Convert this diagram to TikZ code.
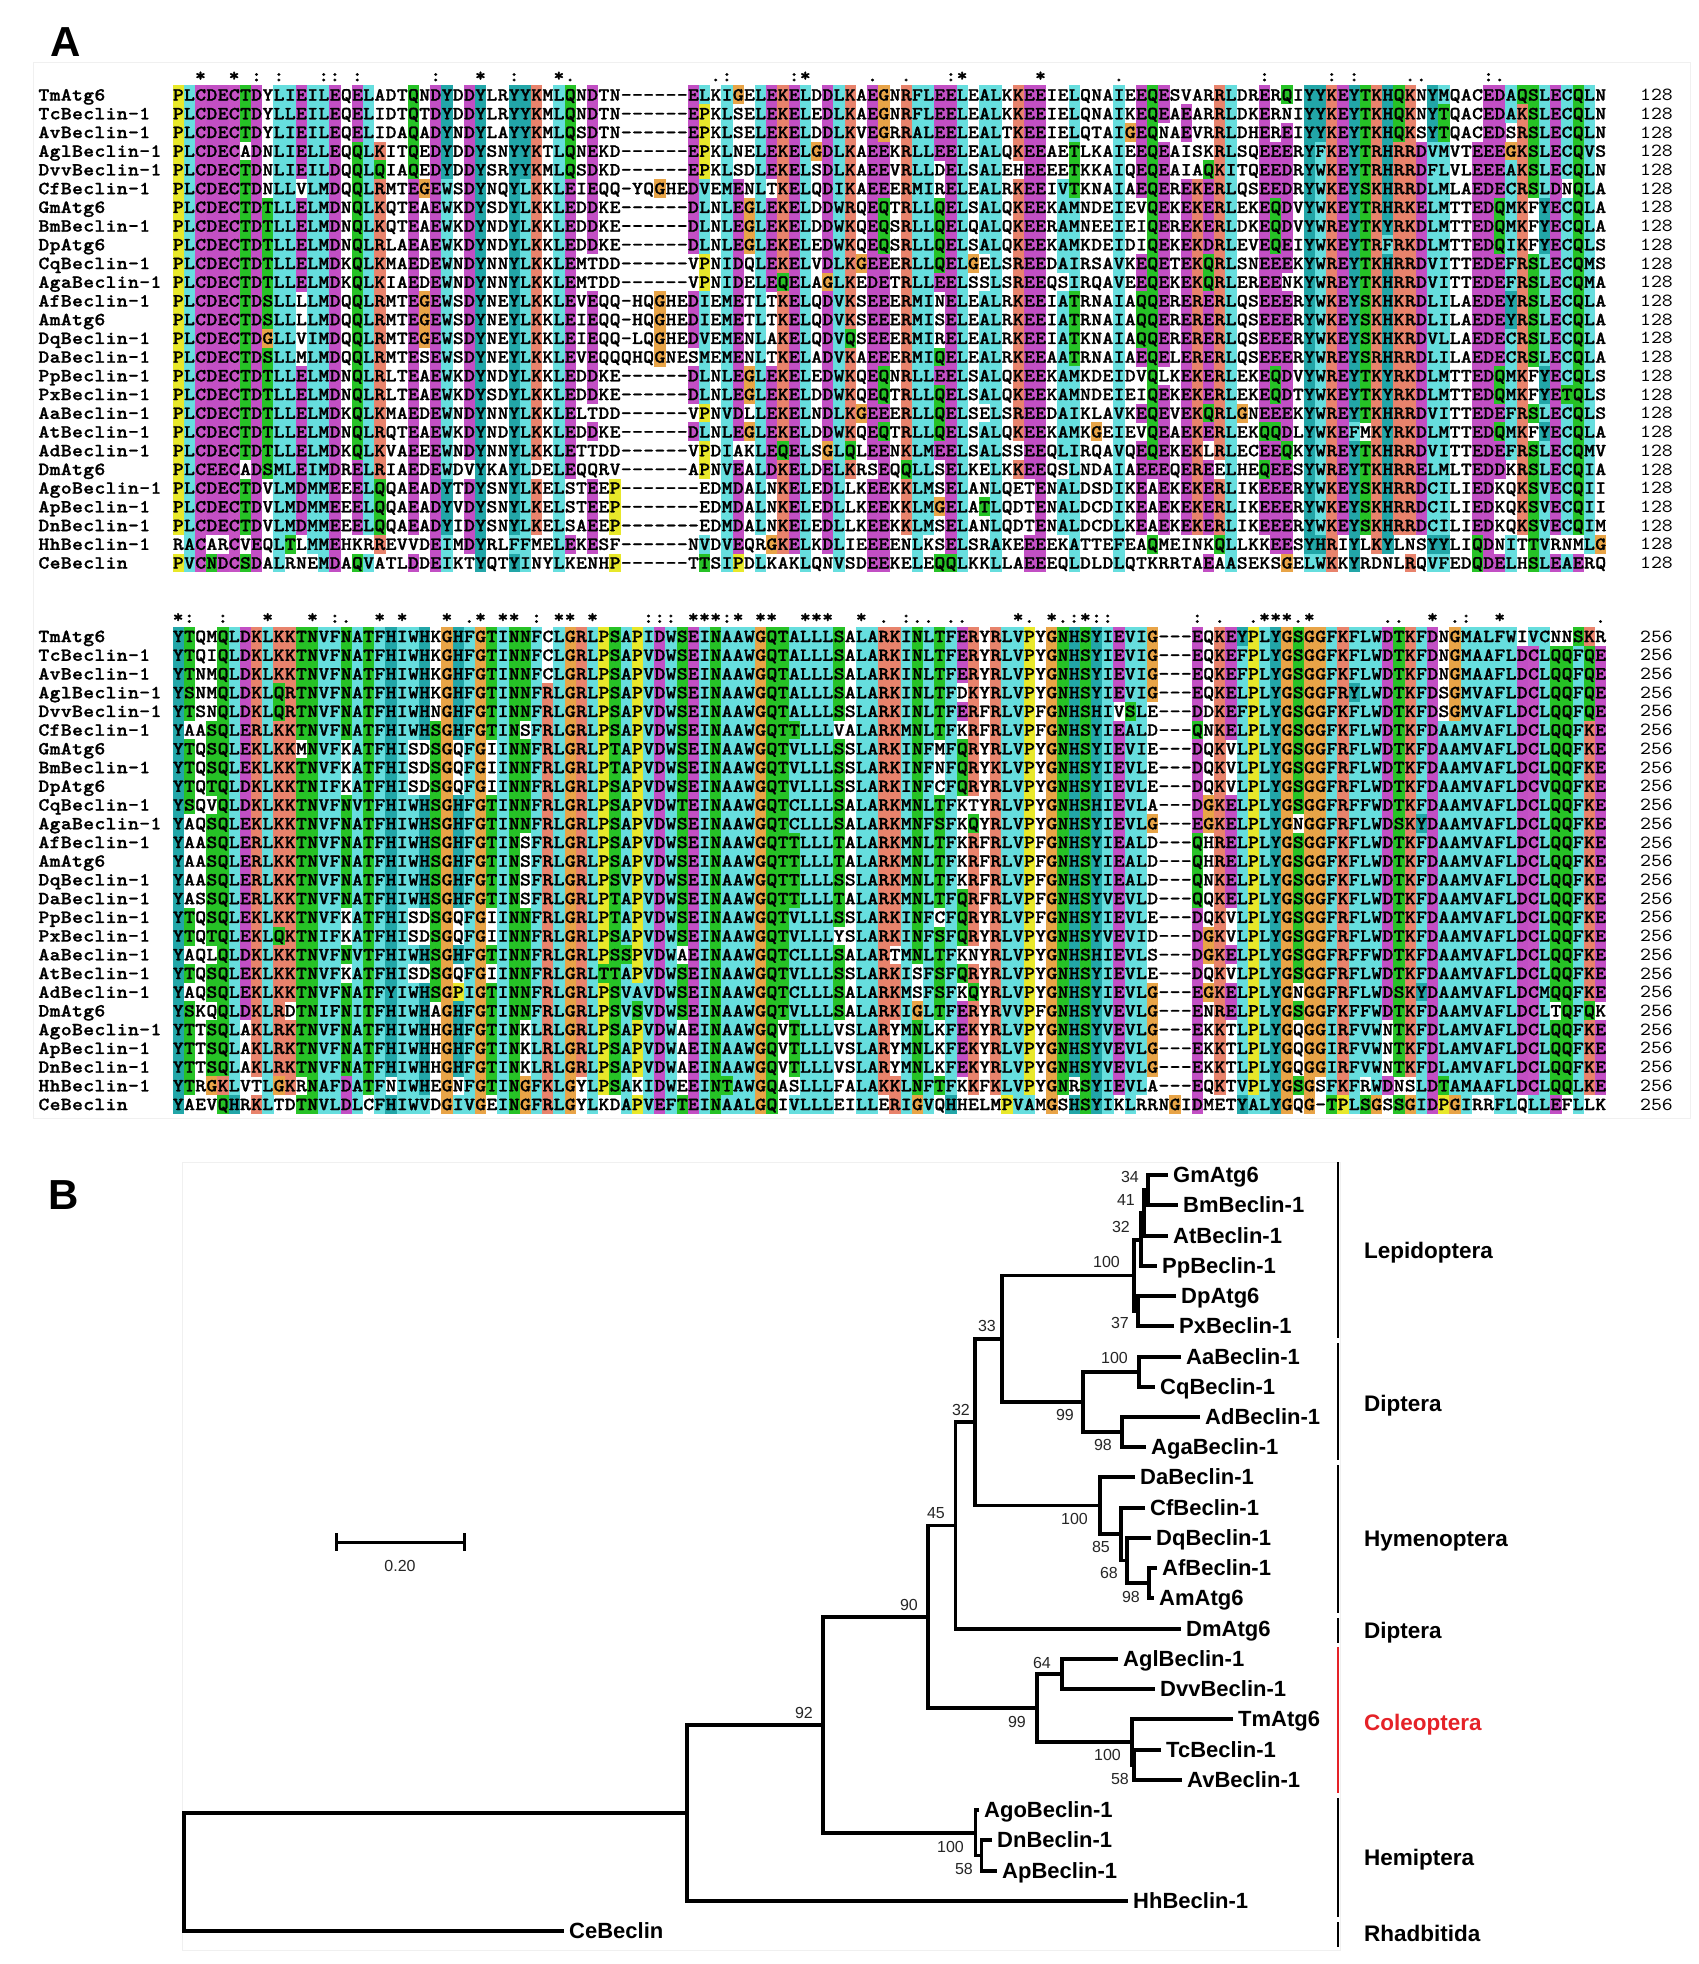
\documentclass[tikz,border=0pt]{standalone}
\usepackage{fontspec}
\setmainfont{Liberation Sans}
\setmonofont{lmmonolt10-bold.otf}[FakeStretch=1.12, FakeBold=1.2]
\newfontfamily\numfont{lmmono10-regular.otf}[FakeStretch=1.12]
\definecolor{cHyd}{HTML}{66DEDE}
\definecolor{cAro}{HTML}{22A6A8}
\definecolor{cNeg}{HTML}{C24FC4}
\definecolor{cPol}{HTML}{26C226}
\definecolor{cPos}{HTML}{E8836C}
\definecolor{cGly}{HTML}{E8A447}
\definecolor{cPro}{HTML}{E8E82A}
\definecolor{cCys}{HTML}{C653C4}
\definecolor{colred}{HTML}{E52228}
\tikzset{
  rowtxt/.style={anchor=base west, inner sep=0pt, font=\ttfamily\fontsize{18.5}{18.5}\selectfont},
  numtxt/.style={anchor=base east, inner sep=0pt, font=\numfont\fontsize{18.5}{18.5}\selectfont},
  constxt/.style={anchor=base, inner sep=0pt, font=\ttfamily\fontsize{18.5}{18.5}\selectfont},
  leaf/.style={anchor=west, inner sep=0pt, text height=15.5pt, text depth=0pt, font=\bfseries\fontsize{22}{22}\selectfont},
  boot/.style={anchor=east, inner sep=0pt, text height=11.5pt, text depth=0pt, text=black!85, font=\fontsize{16}{16}\selectfont},
  grp/.style={anchor=west, inner sep=0pt, text height=16pt, text depth=0pt, font=\bfseries\fontsize{22.5}{22.5}\selectfont},
  br/.style={line width=3.2pt, line join=miter},
  grpbar/.style={line width=2.4pt},
  panel/.style={anchor=center, inner sep=0pt, font=\bfseries\fontsize{42}{42}\selectfont},
}
\ExplSyntaxOn
\intarray_new:Nn \g_aln_data_intarray { 6656 }
\intarray_new:Nn \g_aln_cnt_intarray { 26 }
\intarray_new:Nn \g_aln_flag_intarray { 128 }
\int_new:N \l_aln_j_int
\int_new:N \l_aln_c_int
\int_new:N \l_aln_gap_int
\int_new:N \l_aln_tot_int
\int_new:N \l_aln_nd_int
\int_new:N \g_aln_row_int
\bool_new:N \l_aln_hit_bool
\bool_new:N \l_aln_sub_bool
\tl_new:N \l_aln_color_tl
\tl_new:N \l_aln_cons_tl
\tl_new:N \l_aln_present_tl
\tl_new:N \l_aln_x_tl
\tl_new:N \l_aln_xc_tl
\tl_new:N \l_aln_y_tl
\seq_new:N \g_aln_names_seq
\seq_new:N \g_aln_rowsA_seq
\seq_new:N \g_aln_rowsB_seq
\cs_generate_variant:Nn \str_count:n { e }

\cs_new_protected:Npn \aln_store:nnn #1 #2 #3
  {
    \int_set:Nn \l_aln_j_int { 0 }
    \str_map_inline:nn { #3 }
      {
        \int_incr:N \l_aln_j_int
        \int_compare:nNnT \l_aln_j_int < { 129 }
          {
            \intarray_gset:Nnn \g_aln_data_intarray
              { (#1 - 1) * 3328 + (#2 - 1) * 128 + \l_aln_j_int }
              { `##1 }
          }
      }
  }
\NewDocumentCommand \alnrow { m m m }
  {
    \int_gincr:N \g_aln_row_int
    \seq_gput_right:Nn \g_aln_names_seq { #1 }
    \seq_gput_right:Nn \g_aln_rowsA_seq { #2 }
    \seq_gput_right:Nn \g_aln_rowsB_seq { #3 }
    \aln_store:nnn { 1 } { \g_aln_row_int } { #2 }
    \aln_store:nnn { 2 } { \g_aln_row_int } { #3 }
  }
\cs_new:Npn \aln_cnt:n #1 { \intarray_item:Nn \g_aln_cnt_intarray { `#1 - 64 } }
\cs_new:Npn \aln_item:nnn #1 #2 #3
  { \intarray_item:Nn \g_aln_data_intarray { (#1 - 1) * 3328 + (#2 - 1) * 128 + (#3) } }
\cs_new_protected:Npn \aln_flag:n #1 { \intarray_gset:Nnn \g_aln_flag_intarray { `#1 } { 1 } }
\cs_new_protected:Npn \aln_subset:nn #1 #2
  {
    \tl_if_empty:NT \l_aln_cons_tl
      {
        \bool_set_true:N \l_aln_sub_bool
        \tl_map_inline:Nn \l_aln_present_tl
          { \tl_if_in:nnF { #1 } { ##1 } { \bool_set_false:N \l_aln_sub_bool } }
        \bool_if:NT \l_aln_sub_bool { \tl_set:Nn \l_aln_cons_tl { #2 } }
      }
  }
\cs_new_protected:Npn \aln_column:nn #1 #2
  {
    \intarray_gzero:N \g_aln_cnt_intarray
    \intarray_gzero:N \g_aln_flag_intarray
    \int_zero:N \l_aln_gap_int
    \int_step_inline:nn { 26 }
      {
        \int_set:Nn \l_aln_c_int { \aln_item:nnn {#1} {##1} {#2} }
        \int_compare:nNnTF \l_aln_c_int < { 65 }
          { \int_incr:N \l_aln_gap_int }
          {
            \intarray_gset:Nnn \g_aln_cnt_intarray { \l_aln_c_int - 64 }
              { \intarray_item:Nn \g_aln_cnt_intarray { \l_aln_c_int - 64 } + 1 }
          }
      }
    \int_set:Nn \l_aln_tot_int
      { \aln_cnt:n W + \aln_cnt:n L + \aln_cnt:n V + \aln_cnt:n I + \aln_cnt:n M
        + \aln_cnt:n A + \aln_cnt:n F + \aln_cnt:n C + \aln_cnt:n H + \aln_cnt:n P }
    \int_compare:nNnT { 100 * \l_aln_tot_int } > { 1560 } { \aln_flag:n h }
    \int_compare:nNnT { 100 * \l_aln_tot_int } > { 2080 } { \aln_flag:n x }
    \int_compare:nNnT { 100 * ( \aln_cnt:n E + \aln_cnt:n D ) } > { 1300 } { \aln_flag:n m }
    \int_compare:nNnT { 100 * ( \aln_cnt:n K + \aln_cnt:n R ) } > { 1560 } { \aln_flag:n k }
    \int_compare:nNnT { 100 * \aln_cnt:n N } > { 1300 } { \aln_flag:n n }
    \int_compare:nNnT { 100 * ( \aln_cnt:n Q + \aln_cnt:n E ) } > { 1300 } { \aln_flag:n q }
    \int_compare:nNnT { 100 * \aln_cnt:n P } > { 1300 } { \aln_flag:n p }
    \int_compare:nNnT { 100 * ( \aln_cnt:n T + \aln_cnt:n S ) } > { 1300 } { \aln_flag:n t }
    \int_step_inline:nn { 26 }
      {
        \int_compare:nNnT { \intarray_item:Nn \g_aln_cnt_intarray { ##1 } } > { 22 }
          { \intarray_gset:Nnn \g_aln_flag_intarray { ##1 + 64 } { 1 } }
      }
    \tl_clear:N \l_aln_cons_tl
    \int_compare:nNnT \l_aln_gap_int = { 0 }
      {
        \tl_clear:N \l_aln_present_tl
        \int_zero:N \l_aln_nd_int
        \int_step_inline:nn { 26 }
          {
            \int_compare:nNnT { \intarray_item:Nn \g_aln_cnt_intarray { ##1 } } > { 0 }
              {
                \int_incr:N \l_aln_nd_int
                \tl_put_right:Nx \l_aln_present_tl { \char_generate:nn { ##1 + 64 } { 11 } }
              }
          }
        \int_compare:nNnTF \l_aln_nd_int = { 1 }
          { \tl_set:Nn \l_aln_cons_tl { * } }
          {
            \clist_map_inline:nn { STA, NEQK, NHQK, NDEQ, QHRK, MILV, MILF, HY, FYW }
              { \aln_subset:nn { ##1 } { : } }
            \clist_map_inline:nn { CSA, ATV, SAG, STNK, STPA, SGND, SNDEQK, NDEQHK, NEQHRK, FVLIM, HFY }
              { \aln_subset:nn { ##1 } { . } }
          }
      }
  }
\cs_new_protected:Npn \aln_any:n #1
  {
    \bool_set_false:N \l_aln_hit_bool
    \tl_map_inline:nn { #1 }
      {
        \int_compare:nNnT { \intarray_item:Nn \g_aln_flag_intarray { `##1 } } > { 0 }
          { \bool_set_true:N \l_aln_hit_bool }
      }
  }
\cs_new_protected:Npn \aln_set_if:nn #1 #2
  {
    \aln_any:n { #1 }
    \bool_if:NT \l_aln_hit_bool { \tl_set:Nn \l_aln_color_tl { #2 } }
  }
\cs_new_protected:Npn \aln_color:n #1
  {
    \tl_clear:N \l_aln_color_tl
    \int_case:nn { #1 }
      {
        { `G } { \tl_set:Nn \l_aln_color_tl { cGly } }
        { `P } { \tl_set:Nn \l_aln_color_tl { cPro } }
        { `T } { \aln_set_if:nn { tSThx } { cPol } }
        { `S } { \aln_set_if:nn { tSTx } { cPol } }
        { `N } { \aln_set_if:nn { nND } { cPol } }
        { `Q } { \aln_set_if:nn { qQEkKR } { cPol } }
        { `W } { \aln_set_if:nn { hxACFHILMVWYPp } { cHyd } }
        { `L } { \aln_set_if:nn { hxACFHILMVWYPp } { cHyd } }
        { `V } { \aln_set_if:nn { hxACFHILMVWYPp } { cHyd } }
        { `I } { \aln_set_if:nn { hxACFHILMVWYPp } { cHyd } }
        { `M } { \aln_set_if:nn { hxACFHILMVWYPp } { cHyd } }
        { `F } { \aln_set_if:nn { hxACFHILMVWYPp } { cHyd } }
        { `A } { \aln_set_if:nn { hxACFHILMVWYPpTSG } { cHyd } }
        { `C } { \aln_set_if:nn { hxAFHILMVWYSPp } { cHyd } \aln_set_if:nn { C } { cCys } }
        { `H } { \aln_set_if:nn { hxACFHILMVWYPp } { cAro } }
        { `Y } { \aln_set_if:nn { hxACFHILMVWYPp } { cAro } }
        { `E } { \aln_set_if:nn { mDEqQ } { cNeg } }
        { `D } { \aln_set_if:nn { mDEnN } { cNeg } }
        { `K } { \aln_set_if:nn { kKRQ } { cPos } }
        { `R } { \aln_set_if:nn { kKRQ } { cPos } }
      }
  }
\cs_new_protected:Npn \aln_boxed:n #1
  { \str_map_inline:nn { #1 } { \hbox_to_wd:nn { 11.2pt } { \hss ##1 \hss } } }
\cs_generate_variant:Nn \aln_boxed:n { e }
\cs_new_protected:Npn \aln_draw_block:nnNn #1 #2 #3 #4
  {
    \int_step_inline:nn { 128 }
      {
        \aln_column:nn {#1} {##1}
        \tl_set:Nx \l_aln_x_tl { \fp_eval:n { 172.5 + (##1 - 1) * 11.2 } }
        \tl_if_empty:NF \l_aln_cons_tl
          {
            \tl_set:Nx \l_aln_y_tl { \fp_eval:n { #2 - 18.72 + 5.0 } }
            \tl_set:Nx \l_aln_xc_tl { \fp_eval:n { \l_aln_x_tl + 5.6 } }
            \node[constxt] (cs#1c##1) at (\l_aln_xc_tl,\l_aln_y_tl) {\l_aln_cons_tl};
          }
        \int_step_inline:nn { 26 }
          {
            \aln_color:n { \aln_item:nnn {#1} {####1} {##1} }
            \tl_if_empty:NF \l_aln_color_tl
              {
                \tl_set:Nx \l_aln_y_tl { \fp_eval:n { #2 + (####1 - 1) * 18.72 - 9.5 } }
                \fill[fill=\l_aln_color_tl] (\l_aln_x_tl,\l_aln_y_tl) rectangle ++(11.45,18.98);
              }
          }
      }
    \int_step_inline:nn { 26 }
      {
        \tl_set:Nx \l_aln_y_tl { \fp_eval:n { #2 + (##1 - 1) * 18.72 + 5.6 } }
        \node[rowtxt] (nm#1r##1) at (38.1,\l_aln_y_tl) {\aln_boxed:e {\seq_item:Nn \g_aln_names_seq {##1}}};
        \node[rowtxt] (sq#1r##1) at (172.5,\l_aln_y_tl) {\aln_boxed:e {\seq_item:Nn #3 {##1}}};
        \node[numtxt] (nb#1r##1) at (1673,\l_aln_y_tl)
          { \int_compare:nNnTF { \str_count:e { \seq_item:Nn #3 {##1} } } = { 128 }
              { #4 } { \color{red} \int_eval:n { \str_count:e { \seq_item:Nn #3 {##1} } } } };
      }
  }
\NewDocumentCommand \alnDrawBlocks { }
  {
    \aln_draw_block:nnNn {1} {95} \g_aln_rowsA_seq {128}
    \aln_draw_block:nnNn {2} {636.5} \g_aln_rowsB_seq {256}
  }
\ExplSyntaxOff

\alnrow{TmAtg6}{PLCDECTDYLIEILEQELADTQNDYDDYLRYYKMLQNDTN------ELKIGELEKELDDLKAEGNRFLEELEALKKEEIELQNAIEEQESVARRLDRERQIYYKEYTKHQKNYMQACEDAQSLECQLN}{YTQMQLDKLKKTNVFNATFHIWHKGHFGTINNFCLGRLPSAPIDWSEINAAWGQTALLLSALARKINLTFERYRLVPYGNHSYIEVIG---EQKEYPLYGSGGFKFLWDTKFDNGMALFWIVCNNSKR}
\alnrow{TcBeclin-1}{PLCDECTDYLLEILEQELIDTQTDYDDYLRYYKMLQNDTN------EPKLSELEKELEDLKAEGNRFLEELEALKKEEIELQNAIKEQEAEARRLDKERNIYYKEYTKHQKNYTQACEDAKSLECQLN}{YTQIQLDKLKKTNVFNATFHIWHKGHFGTINNFCLGRLPSAPVDWSEINAAWGQTALLLSALARKINLTFERYRLVPYGNHSYIEVIG---EQKEFPLYGSGGFKFLWDTKFDNGMAAFLDCLQQFQE}
\alnrow{AvBeclin-1}{PLCDECTDYLIEILEQELIDAQADYNDYLAYYKMLQSDTN------EPKLSELEKELDDLKVEGRRALEELEALTKEEIELQTAIGEQNAEVRRLDHEREIYYKEYTKHQKSYTQACEDSRSLECQLN}{YTNMQLDKLKKTNVFNATFHIWHKGHFGTINNFCLGRLPSAPVDWSEINAAWGQTALLLSALARKINLTFERYRLVPYGNHSYIEVIG---EQKEFPLYGSGGFKFLWDTKFDNGMAAFLDCLQQFQE}
\alnrow{AglBeclin-1}{PLCDECADNLIELLEQQLKITQEDYDDYSNYYKTLQNEKD------EPKLNELEKELGDLKAEEKRLLEELEALQKEEAETLKAIEEQEAISKRLSQEEERYFKEYTRHRRDVMVTEEEGKSLECQVS}{YSNMQLDKLQRTNVFNATFHIWHKGHFGTINNFRLGRLPSAPVDWSEINAAWGQTALLLSALARKINLTFDKYRLVPYGNHSYIEVIG---EQKELPLYGSGGFRYLWDTKFDSGMVAFLDCLQQFQE}
\alnrow{DvvBeclin-1}{PLCDECTDNLIEILDQQLQIAQEDYDDYSRYYKMLQSDKD------EPKLSDLEKELSDLKAEEVRLLDELSALEHEEEETKKAIQEQEAIAQKITQEEDRYWKEYTRHRRDFLVLEEEAKSLECQLN}{YTSNQLDKLQRTNVFNATFHIWHNGHFGTINNFRLGRLPSAPVDWSEINAAWGQTALLLSSLARKINLTFERFRLVPFGNHSHIVSLE---DDKEFPLYGSGGFKFLWDTKFDSGMVAFLDCLQQFQE}
\alnrow{CfBeclin-1}{PLCDECTDNLLVLMDQQLRMTEGEWSDYNQYLKKLEIEQQ-YQGHEDVEMENLTKELQDIKAEEERMIRELEALRKEEIVTKNAIAEQEREKERLQSEEDRYWKEYSKHRRDLMLAEDECRSLDNQLA}{YAASQLERLKKTNVFNATFHIWHSGHFGTINSFRLGRLPSAPVDWSEINAAWGQTTLLLVALARKMNLTFKRFRLVPFGNHSYIEALD---QNKELPLYGSGGFKFLWDTKFDAAMVAFLDCLQQFKE}
\alnrow{GmAtg6}{PLCDECTDTLLELMDNQLKQTEAEWKDYSDYLKKLEDDKE------DLNLEGLEKELDDWRQEQTRLLQELSALQKEEKAMNDEIEVQEKEKERLEKEQDVYWKEYTRHRKELMTTEDQMKFYECQLA}{YTQSQLEKLKKMNVFKATFHISDSGQFGIINNFRLGRLPTAPVDWSEINAAWGQTVLLLSSLARKINFMFQRYRLVPYGNHSYIEVIE---DQKVLPLYGSGGFRFLWDTKFDAAMVAFLDCLQQFKE}
\alnrow{BmBeclin-1}{PLCDECTDTLLELMDNQLKQTEAEWKDYNDYLKKLEDDKE------DLNLEGLEKELDDWKQEQSRLLQELQALQKEERAMNEEIEIQEREKERLDKEQDVYWREYTKYRKDLMTTEDQMKFYECQLA}{YTQSQLEKLKKTNVFKATFHISDSGQFGIINNFRLGRLPTAPVDWSEINAAWGQTVLLLSSLARKINFNFQRYKLVPYGNHSYIEVLE---DQKVLPLYGSGGFRFLWDTKFDAAMVAFLDCLQQFKE}
\alnrow{DpAtg6}{PLCDECTDTLLELMDNQLRLAEAEWKDYNDYLKKLEDDKE------DLNLEGLEKELEDWKQEQSRLLQELSALQKEEKAMKDEIDIQEKEKDRLEVEQEIYWKEYTRFRKDLMTTEDQIKFYECQLS}{YTQTQLDKLKKTNIFKATFHISDSGQFGIINNFRLGRLPSAPVDWSEINAAWGQTVLLLSSLARKINFCFQRYRLVPYGNHSYIEVLE---DQKVLPLYGSGGFRFLWDTKFDAAMVAFLDCVQQFKE}
\alnrow{CqBeclin-1}{PLCDECTDTLLELMDKQLKMAEDEWNDYNNYLKKLEMTDD------VPNIDQLEKELVDLKGEEERLLQELGELSREEDAIRSAVKEQETEKQRLSNEEEKYWREYTKHRRDVITTEDEFRSLECQMS}{YSQVQLDKLKKTNVFNVTFHIWHSGHFGTINNFRLGRLPSAPVDWTEINAAWGQTCLLLSALARKMNLTFKTYRLVPYGNHSHIEVLA---DGKELPLYGSGGFRFFWDTKFDAAMVAFLDCLQQFKE}
\alnrow{AgaBeclin-1}{PLCDECTDTLLELMDKQLKIAEDEWNDYNNYLKKLEMTDD------VPNIDELEQELAGLKEDETRLLEELSSLSREEQSIRQAVEEQEKEKQRLEREENKYWREYTKHRRDVITTEDEFRSLECQMA}{YAQSQLEKLKKTNVFNATFHIWHSGHFGTINNFRLGRLPSAPVDWSEINAAWGQTCLLLSALARKMNFSFKQYRLVPYGNHSYIEVLG---EGKELPLYGNGGFRFLWDSKYDAAMVAFLDCLQQFKE}
\alnrow{AfBeclin-1}{PLCDECTDSLLLLMDQQLRMTEGEWSDYNEYLKKLEVEQQ-HQGHEDIEMETLTKELQDVKSEEERMINELEALRKEEIATRNAIAQQERERERLQSEEERYWKEYSKHKRDLILAEDEYRSLECQLA}{YAASQLERLKKTNVFNATFHIWHSGHFGTINSFRLGRLPSAPVDWSEINAAWGQTTLLLTALARKMNLTFKRFRLVPFGNHSYIEALD---QHRELPLYGSGGFKFLWDTKFDAAMVAFLDCLQQFKE}
\alnrow{AmAtg6}{PLCDECTDSLLLLMDQQLRMTEGEWSDYNEYLKKLEIEQQ-HQGHEDIEMETLTKELQDVKSEEERMISELEALRKEEIATRNAIAQQERERERLQSEEERYWKEYSKHKRDLILAEDEYRSLECQLA}{YAASQLERLKKTNVFNATFHIWHSGHFGTINSFRLGRLPSAPVDWSEINAAWGQTTLLLTALARKMNLTFKRFRLVPFGNHSYIEALD---QHRELPLYGSGGFKFLWDTKFDAAMVAFLDCLQQFKE}
\alnrow{DqBeclin-1}{PLCDECTDGLLVIMDQQLRMTEGEWSDYNEYLKKLEIEQQ-LQGHEDVEMENLAKELQDVQSEEERMIRELEALRKEEIATKNAIAQQERERERLQSEEERYWKEYSKHKRDVLLAEDECRSLECQLA}{YAASQLERLKKTNVFNATFHIWHSGHFGTINSFRLGRLPSVPVDWSEINAAWGQTTLLLSSLARKMNLTFKRFRLVPFGNHSYIEALD---QNKELPLYGSGGFKFLWDTKFDAAMVAFLDCLQQFKE}
\alnrow{DaBeclin-1}{PLCDECTDSLLMLMDQQLRMTESEWSDYNEYLKKLEVEQQQHQGNESMEMENLTKELADVKAEEERMIQELEALRKEEAATRNAIAEQELERERLQSEEERYWREYSRHRRDLILAEDECRSLECQLA}{YASSQLERLKKTNVFNATFHIWHSGHFGTINSFRLGRLPTAPVDWSEINAAWGQTTLLLTALARKMNLTFQRFRLVPFGNHSYVEVLD---QQKELPLYGSGGFKFLWDTKFDAAMVAFLDCLQQFKE}
\alnrow{PpBeclin-1}{PLCDECTDTLLELMDNQLRLTEAEWKDYNDYLKKLEDDKE------DLNLEGLEKELEDWKQEQNRLLEELSALQKEEKAMKDEIDVQLKEKERLEKEQDVYWREYTKYRKDLMTTEDQMKFYECQLS}{YTQSQLEKLKKTNVFKATFHISDSGQFGIINNFRLGRLPTAPVDWSEINAAWGQTVLLLSSLARKINFCFQRYRLVPFGNHSYIEVLE---DQKVLPLYGSGGFRFLWDTKFDAAMVAFLDCLQQFKE}
\alnrow{PxBeclin-1}{PLCDECTDTLLELMDNQLRLTEAEWKDYSDYLKKLEDDKE------DLNLEGLEKELDDWKQEQTRLLQELSALQKEEKAMNDEIEIQEKEKERLEKEQDTYWKEYTKYRKDLMTTEDQMKFYETQLS}{YTQTQLEKLQKTNIFKATFHISDSGQFGIINNFRLGRLPSAPVDWSEINAAWGQTVLLLYSLARKINFSFQRYRLVPYGNHSYVEVID---DGKVLPLYGSGGFRFLWDTKFDAAMVAFLDCLQQFKE}
\alnrow{AaBeclin-1}{PLCDECTDTLLELMDKQLKMAEDEWNDYNNYLKKLELTDD------VPNVDLLEKELNDLKGEEERLLQELSELSREEDAIKLAVKEQEVEKQRLGNEEEKYWREYTKHRRDVITTEDEFRSLECQLS}{YAQLQLDKLKKTNVFNVTFHIWHSGHFGTINNFRLGRLPSSPVDWAEINAAWGQTCLLLSALARTMNLTFKNYRLVPYGNHSHIEVLS---DGKELPLYGSGGFRFFWDTKFDAAMVAFLDCLQQFKE}
\alnrow{AtBeclin-1}{PLCDECTDTLLELMDNQLRQTEAEWKDYNDYLKKLEDDKE------DLNLEGLEKELDDWKQEQTRLLQELSALQKEEKAMKGEIEVQEAEKERLEKQQDLYWKEFMKYRKDLMTTEDQMKFYECQLA}{YTQSQLEKLKKTNVFKATFHISDSGQFGIINNFRLGRLTTAPVDWSEINAAWGQTVLLLSSLARKISFSFQRYRLVPYGNHSYIEVLE---DQKVLPLYGSGGFRFLWDTKFDAAMVAFLDCLQQFKE}
\alnrow{AdBeclin-1}{PLCDECTDTLLELMDKQLKVAEEEWNDYNNYLKKLETTDD------VPDIAKLEQELSGLQLEENKLMEELSALSSEEQLIRQAVQEQEKEKLRLECEEQKYWREYTKHRRDVITTEDEFRSLECQMV}{YAQSQLEKLKKTNVFNATFYIWHSGPIGTINNFRLGRLPSVAVDWSEINAAWGQTCLLLSALARKMSFSFKQYRLVPYGNHSYIEVLG---EGKELPLYGNGGFRFLWDSKYDAAMVAFLDCMQQFKE}
\alnrow{DmAtg6}{PLCEECADSMLEIMDRELRIAEDEWDVYKAYLDELEQQRV------APNVEALDKELDELKRSEQQLLSELKELKKEEQSLNDAIAEEEQEREELHEQEESYWREYTKHRRELMLTEDDKRSLECQIA}{YSKQQLDKLRDTNIFNITFHIWHAGHFGTINNFRLGRLPSVSVDWSEINAAWGQTVLLLSALARKIGLTFERYRVVPFGNHSYVEVLG---ENRELPLYGSGGFKFFWDTKFDAAMVAFLDCLTQFQK}
\alnrow{AgoBeclin-1}{PLCDECTDVLMDMMEEELQQAEADYTDYSNYLKELSTEEP-------EDMDALNKELEDLLKEEKKLMSELANLQETENALDSDIKEAEKEKERLIKEEERYWKEYSKHRRDCILIEDKQKSVECQII}{YTTSQLAKLRKTNVFNATFHIWHHGHFGTINKLRLGRLPSAPVDWAEINAAWGQVTLLLVSLARYMNLKFEKYRLVPYGNHSYVEVLG---EKKTLPLYGQGGIRFVWNTKFDLAMVAFLDCLQQFKE}
\alnrow{ApBeclin-1}{PLCDECTDVLMDMMEEELQQAEADYVDYSNYLKELSTEEP-------EDMDALNKELEDLLKEEKKLMGELATLQDTENALDCDIKEAEKEKERLIKEEERYWKEYSKHRRDCILIEDKQKSVECQII}{YTTSQLAKLRKTNVFNATFHIWHHGHFGTINKLRLGRLPSAPVDWAEINAAWGQVTLLLVSLARYMNLKFEKYRLVPYGNHSYVEVLG---EKKTLPLYGQGGIRFVWNTKFDLAMVAFLDCLQQFKE}
\alnrow{DnBeclin-1}{PLCDECTDVLMDMMEEELQQAEADYIDYSNYLKELSAEEP-------EDMDALNKELEDLLKEEKKLMSELANLQDTENALDCDLKEAEKEKERLIKEEERYWKEYSKHRRDCILIEDKQKSVECQIM}{YTTSQLAKLRKTNVFNATFHIWHHGHFGTINKLRLGRLPSAPVDWAEINAAWGQVTLLLVSLARYMNLKFEKYRLVPYGNHSYVEVLG---EKKTLPLYGQGGIRFVWNTKFDLAMVAFLDCLQQFKE}
\alnrow{HhBeclin-1}{RACARCVEQLTLMMEHKRREVVDEIMDYRLFFMELEKESF------NVDVEQRGKELKDLIEEEENLKSELSRAKEEEEKATTEFEAQMEINKQLLKKEESYHRIYLKYLNSYYLIQDNITTVRNMLG}{YTRGKLVTLGKRNAFDATFNIWHEGNFGTINGFKLGYLPSAKIDWEEINTAWGQASLLLFALAKKLNFTFKKFKLVPYGNRSYIEVLA---EQKTVPLYGSGSFKFRWDNSLDTAMAAFLDCLQQLKE}
\alnrow{CeBeclin}{PVCNDCSDALRNEMDAQVATLDDEIKTYQTYINYLKENHP------TTSIPDLKAKLQNVSDEEKELEQQLKKLLAEEEQLDLDLQTKRRTAEAASEKSGELWKKYRDNLRQVFEDQDELHSLEAERQ}{YAEVQHRKLTDTNVLDLCFHIWVDGIVGEINGFRLGYLKDAPVEFTEINAALGQIVLLLEILLERIGVQHHELMPVAMGSHSYIKLRRNGIDMETYALYGQG-TPLSGSSGIDPGIRRFLQLLEFLLK}

\begin{document}
\begin{tikzpicture}[x=1pt,y=-1pt]
\fill[white] (0,0) rectangle (1699,1964);
\useasboundingbox (0,0) rectangle (1699,1964);
% faint panel frames
\draw[black!6, line width=1pt] (33,63) rectangle (1690,1118);
\draw[black!6, line width=1pt] (182,1162) rectangle (1340,1950);
\node[panel] (labA) at (66,42) {A};
\node[panel] (labB) at (64,1195) {B};
\alnDrawBlocks
% ---------------- tree -----------------
\foreach \nm/\yy/\lx/\txt in {
 Gm/1175/1173/GmAtg6, Bm/1205/1183/BmBeclin-1, At/1236/1173/AtBeclin-1,
 Pp/1266/1162/PpBeclin-1, Dp/1296/1181/DpAtg6, Px/1326/1179/PxBeclin-1,
 Aa/1357/1186/AaBeclin-1, Cq/1387/1160/CqBeclin-1, Ad/1417/1205/AdBeclin-1,
 Aga/1447/1151/AgaBeclin-1, Da/1477/1140/DaBeclin-1, Cf/1508/1150/CfBeclin-1,
 Dq/1538/1156/DqBeclin-1, Af/1568/1162/AfBeclin-1, Am/1598/1159/AmAtg6,
 Dm/1629/1186/DmAtg6, Agl/1659/1123/AglBeclin-1, Dvv/1689/1160/DvvBeclin-1,
 Tm/1719/1238/TmAtg6, Tc/1750/1166/TcBeclin-1, Av/1780/1187/AvBeclin-1,
 Ago/1810/984/AgoBeclin-1, Dn/1840/997/DnBeclin-1, Ap/1871/1002/ApBeclin-1,
 Hh/1901/1133/HhBeclin-1, Ce/1931/569/CeBeclin}{
  \node[leaf] (L\nm) at (\lx,\yy) {\txt};
  \coordinate (e\nm) at (\lx-5,\yy);
}
\coordinate (n34) at (1148,1190);
\coordinate (n41) at (1144,1213);
\coordinate (n32L) at (1141,1240);
\coordinate (n37) at (1138,1311);
\coordinate (nL) at (1134,1275.5);
\coordinate (nN) at (1139,1372);
\coordinate (nO) at (1122,1432);
\coordinate (nM) at (1083,1402);
\coordinate (nJ) at (1002,1339);
\coordinate (nU) at (1149,1583);
\coordinate (nT) at (1127,1560.5);
\coordinate (nS) at (1121,1534);
\coordinate (nK) at (1100,1505.5);
\coordinate (nI) at (975,1422);
\coordinate (nG) at (955.6,1525.5);
\coordinate (nV) at (1062,1674);
\coordinate (nX) at (1134,1765);
\coordinate (nW) at (1132,1742);
\coordinate (nH) at (1037,1708);
\coordinate (nD) at (928,1617);
\coordinate (nF) at (981.6,1855.5);
\coordinate (nE) at (975.6,1833);
\coordinate (nC) at (823,1725);
\coordinate (nB) at (687,1813);
\coordinate (nR) at (184,1872);
\draw[br] (eGm) -| (n34) |- (eBm);
\draw[br] (n34) -| (n41) |- (eAt);
\draw[br] (n41) -| (n32L) |- (ePp);
\draw[br] (eDp) -| (n37) |- (ePx);
\draw[br] (n32L) -| (nL) |- (n37);
\draw[br] (eAa) -| (nN) |- (eCq);
\draw[br] (eAd) -| (nO) |- (eAga);
\draw[br] (nN) -| (nM) |- (nO);
\draw[br] (nL) -| (nJ) |- (nM);
\draw[br] (eAf) -| (nU) |- (eAm);
\draw[br] (eDq) -| (nT) |- (nU);
\draw[br] (eCf) -| (nS) |- (nT);
\draw[br] (eDa) -| (nK) |- (nS);
\draw[br] (nJ) -| (nI) |- (nK);
\draw[br] (nI) -| (nG) |- (eDm);
\draw[br] (eAgl) -| (nV) |- (eDvv);
\draw[br] (eTc) -| (nX) |- (eAv);
\draw[br] (eTm) -| (nW) |- (nX);
\draw[br] (nV) -| (nH) |- (nW);
\draw[br] (nG) -| (nD) |- (nH);
\draw[br] (eDn) -| (nF) |- (eAp);
\draw[br] (eAgo) -| (nE) |- (nF);
\draw[br] (nD) -| (nC) |- (nE);
\draw[br] (nC) -| (nB) |- (eHh);
\draw[br] (nB) -| (nR) |- (eCe);
% bootstrap values
\foreach \v/\bx/\by [count=\k] in {
 34/1139/1177, 41/1135/1200, 32/1130/1227, 100/1120/1262, 37/1129/1323,
 100/1128/1358, 99/1074/1415, 98/1112/1445, 33/996/1326, 32/970/1410,
 100/1088/1519, 85/1110/1547, 68/1118/1573, 98/1140/1597, 45/945/1513,
 90/918/1605, 64/1051/1663, 99/1026/1722, 100/1121/1755, 58/1129/1779,
 92/813/1713, 100/964/1847, 58/973/1869}{
  \node[boot] (bs\k) at (\bx,\by) {\v};
}
% group bars and labels
\draw[grpbar] (1338,1162) -- (1338,1338);
\draw[grpbar] (1338,1343) -- (1338,1460);
\draw[grpbar] (1338,1465) -- (1338,1613);
\draw[grpbar] (1338,1618) -- (1338,1643);
\draw[grpbar, colred] (1338,1647) -- (1338,1793);
\draw[grpbar] (1338,1798) -- (1338,1917);
\draw[grpbar] (1338,1922) -- (1338,1947);
\node[grp] (gLep) at (1364,1250) {Lepidoptera};
\node[grp] (gDip) at (1364,1403) {Diptera};
\node[grp] (gHym) at (1364,1538) {Hymenoptera};
\node[grp] (gDip2) at (1364,1630) {Diptera};
\node[grp, text=colred] (gCol) at (1364,1722) {Coleoptera};
\node[grp] (gHem) at (1364,1857) {Hemiptera};
\node[grp] (gRha) at (1364,1933) {Rhadbitida};
% scale bar
\coordinate (sb1) at (336,1542);
\coordinate (sb2) at (464,1542);
\draw[line width=3pt] (sb1) -- (sb2);
\draw[line width=3pt] (336,1533) -- (336,1551);
\draw[line width=3pt] (464,1533) -- (464,1551);
\node[boot, anchor=center] (sbl) at (400,1566) {0.20};
\end{tikzpicture}
\end{document}
